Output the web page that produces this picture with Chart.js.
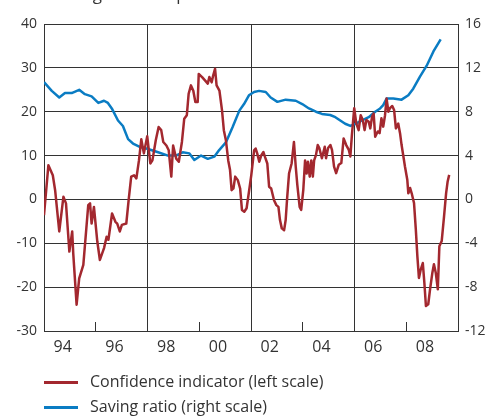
<!DOCTYPE html>
<html>
<head>
<meta charset="utf-8">
<script src="https://cdn.jsdelivr.net/npm/chart.js@4/dist/chart.umd.min.js"></script>
<style>
  html, body { margin: 0; padding: 0; background: #fff; }
  #wrap { position: relative; width: 488px; height: 416px; overflow: hidden; font-family: "Open Sans", sans-serif; color: #333; }
  #chart { position: absolute; left: 0; top: 0; }
  #title { position: absolute; left: 50px; top: -16px; font-size: 17px; line-height: 20px; white-space: nowrap; }
  #legend { position: absolute; left: 44px; top: 369px; font-size: 16px; }
  .row { height: 25px; line-height: 24px; white-space: nowrap; }
  .swatch { display: inline-block; width: 34px; height: 3px; vertical-align: middle; margin-right: 12px; }
</style>
</head>
<body>
<div id="wrap">
  <canvas id="chart" width="488" height="416"></canvas>
  <div id="title">Net figures and per cent</div>
  <div id="legend">
    <div class="row"><span class="swatch" style="background:#a3282f"></span>Confidence indicator (left scale)</div>
    <div class="row"><span class="swatch" style="background:#0a7cc3"></span>Saving ratio (right scale)</div>
  </div>
</div>
<script>
// x positions are decimal years
var confDates = [
  1993.20,1993.37,1993.54,1993.63,1993.79,1993.95,1994.05,1994.18,1994.29,1994.33,
  1994.46,1994.56,1994.72,1994.91,1994.98,1995.04,1995.13,1995.26,1995.36,1995.52,
  1995.62,1995.69,1995.83,1995.96,1996.03,1996.13,1996.21,1996.38,1996.47,1996.57,
  1996.68,1996.77,1996.87,1996.96,1997.06,1997.19,1997.31,1997.39,1997.52,1997.63,
  1997.73,1997.81,1997.93,1998.02,1998.12,1998.19,1998.31,1998.41,1998.53,1998.62,
  1998.72,1998.79,1998.88,1998.97,1999.05,1999.14,1999.18,1999.31,1999.43,1999.53,
  1999.59,1999.68,1999.74,1999.81,1999.87,1999.98,2000.08,2000.15,2000.23,2000.32,
  2000.39,2000.45,2000.52,2000.59,2000.69,2000.78,2000.85,2000.94,2001.03,2001.12,
  2001.21,2001.32,2001.38,2001.44,2001.52,2001.60,2001.68,2001.74,2001.83,2001.90,
  2001.98,2002.09,2002.18,2002.26,2002.32,2002.39,2002.48,2002.54,2002.60,2002.67,
  2002.77,2002.86,2002.93,2002.99,2003.08,2003.14,2003.22,2003.29,2003.35,2003.40,
  2003.47,2003.53,2003.59,2003.64,2003.71,2003.78,2003.84,2003.94,2004.05,2004.10,
  2004.18,2004.27,2004.33,2004.41,2004.49,2004.59,2004.69,2004.78,2004.88,2004.98,
  2005.04,2005.10,2005.19,2005.27,2005.36,2005.44,2005.52,2005.59,2005.66,2005.75,
  2005.81,2005.88,2005.94,2006.00,2006.10,2006.17,2006.24,2006.31,2006.38,2006.44,
  2006.51,2006.57,2006.66,2006.73,2006.80,2006.89,2006.96,2007.02,2007.09,2007.15,
  2007.24,2007.28,2007.35,2007.41,2007.50,2007.57,2007.63,2007.69,2007.76,2007.84,
  2007.90,2007.96,2008.05,2008.12,2008.21,2008.27,2008.34,2008.42,2008.48,2008.57,
  2008.66,2008.74,2008.80,2008.86
];
var confValues = [
  -3.6,7.8,5.5,2.1,-7.3,0.6,-0.9,-11.9,-7.3,-12.3,
  -24,-18,-14.9,-1.3,-0.9,-5.5,-1.7,-9.6,-13.8,-11.1,
  -8.5,-9.2,-3.2,-5.1,-5.5,-7.3,-5.8,-5.5,-0.2,5.2,
  5.5,4.8,8.9,13.7,10.5,14.4,8.2,8.9,13.5,16.5,
  15.8,13.1,12.3,11.2,5.2,12.3,9.3,8.6,13.1,18.4,
  19.2,24.1,26,24.8,22.2,22.2,28.6,27.9,27.1,26.4,
  27.9,26.7,28.3,29.8,26,24.8,20.3,15.8,13.5,8.9,
  6.7,2.1,2.5,5.2,4.4,2.5,-2.4,-2.8,-2,1.7,
  5.5,11.2,11.6,10.5,8.6,10.1,10.8,9.7,8.2,2.9,
  2.5,-0.2,-1.3,-1.7,-4.7,-6.6,-7,-4.7,0.6,5.9,
  8.2,13.1,7.4,3.3,-1.7,-2.4,2.1,8.9,5.9,8.6,
  5.2,8.9,5.2,8.9,10.1,12.4,11.7,9.4,12,9.4,
  11.7,12.4,11.3,7.5,6,7.9,8.3,13.9,12.4,11.3,
  9.8,14.7,20.8,17.3,15.8,19.2,18.1,15.8,18.1,17.7,
  16.2,18.9,19.6,14.3,15.5,15.1,18.5,16.6,19.2,23,
  20,20.8,21.3,20.4,16.2,17.3,15.1,12.4,9.8,7.5,
  4.5,1.4,2.6,1.4,-0.8,-6.9,-13,-17.9,-16,-14.5,
  -19,-24.3,-23.9,-20.5,-16.7,-14.8,-16.7,-20.5,-10.7,-9.5,
  -3.9,1.4,4.1,5.6
];
var saveDates = [
  1993.20,1993.50,1993.79,1994.01,1994.27,1994.56,1994.78,1995.04,1995.30,1995.52,
  1995.67,1995.82,1996.06,1996.25,1996.45,1996.64,1996.90,1997.22,1997.61,1997.99,
  1998.30,1998.56,1998.82,1999.01,1999.27,1999.53,1999.78,1999.97,2000.23,2000.49,
  2000.75,2000.93,2001.12,2001.32,2001.51,2001.77,2001.96,2002.22,2002.54,2002.93,
  2003.18,2003.44,2003.71,2003.94,2004.26,2004.46,2004.65,2004.84,2005.04,2005.23,
  2005.49,2005.75,2006.00,2006.19,2006.31,2006.44,2006.70,2007.02,2007.28,2007.47,
  2007.73,2007.99,2008.25,2008.53
];
var saveValues = [
  10.7,9.9,9.3,9.7,9.7,10.0,9.6,9.4,8.8,9.0,
  8.8,8.3,7.2,6.7,5.5,5.1,4.8,4.6,4.3,4.0,
  4.0,4.3,4.2,3.6,4.0,3.7,3.9,4.5,5.2,6.6,
  8.1,8.7,9.5,9.8,9.9,9.8,9.3,8.9,9.1,9.0,
  8.7,8.3,8.0,7.8,7.7,7.5,7.2,6.9,6.7,6.9,
  7.2,7.5,8.0,8.3,8.6,9.2,9.2,9.1,9.5,10.1,
  11.2,12.2,13.5,14.6
];
var labelYears = [1994, 1996, 1998, 2000, 2002, 2004, 2006, 2008];
var yearLabels = ['94', '96', '98', '00', '02', '04', '06', '08'];
var gridYears = [1995.2, 1997.2, 1999.2, 2001.2, 2003.2, 2005.2, 2007.2];
var majorGrid = [1997.2, 2001.2, 2005.2];

var lineColor = '#333333';
Chart.defaults.font.family = '"Open Sans", sans-serif';
Chart.defaults.color = '#333333';

function toPoints(xs, ys) {
  return xs.map(function (x, i) { return { x: x, y: ys[i] }; });
}

var ctx = document.getElementById('chart').getContext('2d');
var chart = new Chart(ctx, {
  type: 'line',
  data: {
    datasets: [{
      label: 'Confidence indicator (left scale)',
      data: toPoints(confDates, confValues),
      borderColor: '#a3282f',
      borderWidth: 2.5,
      pointRadius: 0,
      borderJoinStyle: 'round',
      fill: false,
      xAxisID: 'x',
      yAxisID: 'y'
    }, {
      label: 'Saving ratio (right scale)',
      data: toPoints(saveDates, saveValues),
      borderColor: '#0a7cc3',
      borderWidth: 2.5,
      pointRadius: 0,
      borderJoinStyle: 'round',
      fill: false,
      xAxisID: 'x',
      yAxisID: 'y1'
    }]
  },
  options: {
    responsive: false,
    animation: false,
    layout: { padding: { top: 24, bottom: 55, left: 0, right: 0 } },
    plugins: { legend: { display: false }, tooltip: { enabled: false } },
    scales: {
      xg: {
        type: 'linear', position: 'bottom', weight: 0,
        min: 1993.2, max: 2009.2,
        afterBuildTicks: function (s) { s.ticks = gridYears.map(function (v) { return { value: v }; }); },
        afterFit: function (s) { s.height = 0; },
        ticks: { display: false },
        grid: {
          color: function (c) { return majorGrid.indexOf(c.tick.value) >= 0 ? lineColor : 'rgba(0,0,0,0)'; },
          tickColor: lineColor,
          tickLength: -9,
          lineWidth: 1
        },
        border: { display: true, color: lineColor, width: 1 }
      },
      x: {
        type: 'linear', position: 'bottom', weight: 1,
        min: 1993.2, max: 2009.2,
        afterBuildTicks: function (s) { s.ticks = labelYears.map(function (v) { return { value: v - 0.08 }; }); },
        afterFit: function (s) { s.height = 30; },
        ticks: {
          autoSkip: false, maxRotation: 0, padding: 7,
          font: { size: 16 },
          callback: function (v, i) { return yearLabels[i]; }
        },
        grid: { display: false, drawTicks: false },
        border: { display: false }
      },
      y: {
        position: 'left', min: -30, max: 40,
        afterFit: function (s) { s.width = 44; },
        ticks: { stepSize: 10, padding: 7, font: { size: 14 } },
        grid: { color: lineColor, lineWidth: 1, drawTicks: false },
        border: { color: lineColor, width: 1 }
      },
      y1: {
        position: 'right', min: -12, max: 16,
        afterFit: function (s) { s.width = 30; },
        ticks: { stepSize: 4, padding: 7, font: { size: 14 } },
        grid: { drawOnChartArea: false, drawTicks: false },
        border: { color: lineColor, width: 1 }
      }
    }
  }
});
</script>
</body>
</html>
